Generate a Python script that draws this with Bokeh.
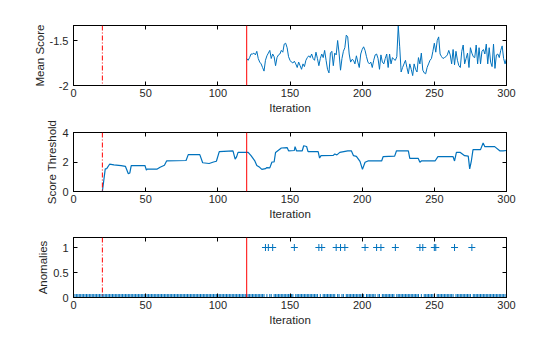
from bokeh.plotting import figure
from bokeh.layouts import column
from bokeh.models import Span, LinearAxis, FixedTicker, Range1d, ColumnDataSource
from bokeh.embed import file_html
from bokeh.resources import INLINE

# ---------------- data ----------------
iter_start_line = 20      # dash-dot red marker
iter_train_line = 120     # solid red marker

mean_iter = list(range(120, 301))
mean_score = [
    -1.70, -1.72, -1.69, -1.65, -1.65, -1.64, -1.66, -1.62, -1.70, -1.74,  # 120-129
    -1.76, -1.80, -1.84, -1.72, -1.67, -1.64, -1.61, -1.70, -1.65, -1.68,  # 130-139
    -1.78, -1.69, -1.66, -1.65, -1.61, -1.63, -1.54, -1.53, -1.58, -1.68,  # 140-149
    -1.72, -1.74, -1.75, -1.73, -1.76, -1.80, -1.74, -1.78, -1.82, -1.76,  # 150-159
    -1.79, -1.72, -1.69, -1.67, -1.69, -1.65, -1.70, -1.72, -1.63, -1.70,  # 160-169
    -1.78, -1.70, -1.65, -1.69, -1.61, -1.72, -1.82, -1.86, -1.64, -1.62,  # 170-179
    -1.78, -1.64, -1.66, -1.50, -1.64, -1.83, -1.70, -1.62, -1.58, -1.44,  # 180-189
    -1.46, -1.65, -1.74, -1.71, -1.72, -1.76, -1.67, -1.74, -1.80, -1.65,  # 190-199
    -1.60, -1.57, -1.61, -1.68, -1.74, -1.76, -1.74, -1.80, -1.72, -1.66,  # 200-209
    -1.65, -1.70, -1.82, -1.66, -1.74, -1.76, -1.70, -1.65, -1.80, -1.65,  # 210-219
    -1.76, -1.69, -1.71, -1.72, -1.68, -1.34, -1.57, -1.85, -1.80, -1.76,  # 220-229
    -1.72, -1.80, -1.87, -1.76, -1.82, -1.89, -1.76, -1.82, -1.85, -1.69,  # 230-239
    -1.76, -1.64, -1.83, -1.86, -1.87, -1.80, -1.76, -1.72, -1.70, -1.62,  # 240-249
    -1.53, -1.63, -1.50, -1.46, -1.65, -1.68, -1.70, -1.69, -1.68, -1.66,  # 250-259
    -1.61, -1.66, -1.76, -1.60, -1.77, -1.62, -1.72, -1.78, -1.80, -1.62,  # 260-269
    -1.55, -1.76, -1.70, -1.64, -1.80, -1.58, -1.64, -1.68, -1.69, -1.55,  # 270-279
    -1.76, -1.58, -1.76, -1.62, -1.60, -1.65, -1.54, -1.76, -1.58, -1.74,  # 280-289
    -1.79, -1.54, -1.81, -1.66, -1.65, -1.69, -1.61, -1.56, -1.70, -1.76,  # 290-299
    -1.70,                                                                 # 300
]

thr_iter = [0, 20, 22, 23, 25, 28, 33, 36, 38, 39, 40, 49.5, 50.5, 51, 58, 60, 63, 64.5,
            78, 79.5, 87.5, 89.5, 94, 97, 99, 101, 110.5, 112, 113, 114, 121, 123, 125.5,
            127, 129, 130.5, 133, 134, 136, 137.5, 139, 140, 144, 148, 149, 153, 153.5,
            154.5, 158.5, 159.5, 161.5, 162.5, 169.5, 170.5, 171.5, 180, 181, 182.5, 184.5,
            190, 192.5, 194, 196, 198.5, 200.2, 202, 204, 213.5, 214.5, 222.5, 223.8, 232,
            233, 238.8, 240, 241, 250.5, 252.5, 263, 264, 265.3, 268, 271, 273.5, 274.5,
            275.7, 276.8, 282, 283.8, 285, 291.8, 295.3, 297.6, 300]
thr_value = [0, 0, 1.53, 1.55, 1.85, 1.80, 1.76, 1.70, 1.20, 1.25, 1.76, 1.76, 1.45, 1.52, 1.52,
             1.64, 1.78, 2.07, 2.10, 2.50, 2.50, 1.95, 1.90, 2.00, 2.05, 2.70, 2.76, 2.20, 2.35,
             2.65, 2.65, 2.43, 2.10, 1.76, 1.64, 1.50, 1.55, 1.62, 1.60, 2.00, 2.00, 2.65, 2.95,
             2.98, 2.76, 2.78, 3.04, 2.76, 2.76, 3.10, 3.05, 2.70, 2.70, 2.27, 2.43, 2.45, 2.54,
             2.48, 2.65, 2.76, 2.76, 2.43, 2.38, 2.04, 1.50, 1.98, 2.07, 2.07, 2.36, 2.40, 2.76,
             2.76, 2.25, 2.25, 1.98, 2.07, 2.07, 2.36, 2.36, 2.07, 2.65, 2.65, 2.43, 2.40, 1.53,
             2.10, 2.84, 2.84, 3.29, 3.04, 3.04, 2.76, 2.76, 2.78]

all_iter = list(range(0, 301))
anomaly_iters = [133, 135, 138, 153, 170, 172, 182, 185, 188, 202, 210, 213, 223,
                 240, 242, 250, 251, 264, 276]
anomalies = [1 if i in anomaly_iters else 0 for i in all_iter]

x_ticks = [0, 50, 100, 150, 200, 250, 300]

# ---------------- style ----------------
BLUE = "#0072BD"
TXT = "#262626"
FONT = "Liberation Sans"
W = 560
BL, BR = 73, 54


def make_fig(height, top, bottom, yrange, yticks, yover, ylabel):
    p = figure(width=W, height=height, output_backend="svg", toolbar_location=None,
               x_range=Range1d(0, 300), y_range=Range1d(*yrange),
               min_border_left=BL, min_border_right=BR,
               min_border_top=top, min_border_bottom=bottom)
    p.grid.visible = False
    p.outline_line_color = "black"
    p.outline_line_alpha = 1
    p.outline_line_width = 1
    p.background_fill_color = "white"
    p.border_fill_color = "white"

    for ax, ticks, over in ((p.xaxis[0], x_ticks, None), (p.yaxis[0], yticks, yover)):
        ax.ticker = FixedTicker(ticks=ticks)
        if over:
            ax.major_label_overrides = over
        ax.major_tick_in = 4
        ax.major_tick_out = 0
        ax.minor_tick_line_color = None
        ax.axis_line_color = "black"
        ax.major_tick_line_color = "black"
        ax.major_label_text_font = FONT
        ax.major_label_text_font_size = "11px"
        ax.major_label_text_color = TXT
        ax.axis_label_text_font = FONT
        ax.axis_label_text_font_size = "11.5px"
        ax.axis_label_text_font_style = "normal"
        ax.axis_label_text_color = TXT
    p.xaxis[0].axis_label = "Iteration"
    p.xaxis[0].major_label_standoff = 3
    p.xaxis[0].axis_label_standoff = 2
    p.yaxis[0].axis_label = ylabel
    p.yaxis[0].major_label_standoff = 5
    p.yaxis[0].axis_label_standoff = 1

    # box ticks on top and right (no labels)
    for loc, ticks in (("above", x_ticks), ("right", yticks)):
        ax = LinearAxis(ticker=FixedTicker(ticks=ticks), major_tick_in=4, major_tick_out=0,
                        minor_tick_line_color=None, axis_line_color="black",
                        major_label_text_font_size="6px", major_label_text_color=None,
                        major_label_standoff=0)
        p.add_layout(ax, loc)

    p.add_layout(Span(location=iter_start_line, dimension="height", line_color="red",
                      line_width=1, line_dash="5 2 1 2"))
    p.add_layout(Span(location=iter_train_line, dimension="height", line_color="red",
                      line_width=1))
    return p


p1 = make_fig(116, 25, 31, (-2, -1.3333), [-2, -1.5], {-2: "-2", -1.5: "-1.5"}, "Mean Score")
p1.line(x="it", y="v", source=ColumnDataSource(dict(it=mean_iter, v=mean_score)),
        line_color=BLUE, line_width=1)

p2 = make_fig(108, 16, 33, (0, 4), [0, 2, 4], {0: "0", 2: "2", 4: "4"}, "Score Threshold")
p2.line(x="it", y="v", source=ColumnDataSource(dict(it=thr_iter, v=thr_value)),
        line_color=BLUE, line_width=1.2)

p3 = make_fig(113, 13, 40, (0, 1.2), [0, 0.5, 1], {0: "0", 0.5: "0.5", 1: "1"}, "Anomalies")
p3.scatter(x="it", y="v", source=ColumnDataSource(dict(it=all_iter, v=anomalies)),
           marker="cross", size=7, line_color=BLUE, line_width=1)

layout = column(p1, p2, p3, spacing=0)
open("out.html", "w").write(file_html(layout, INLINE))
